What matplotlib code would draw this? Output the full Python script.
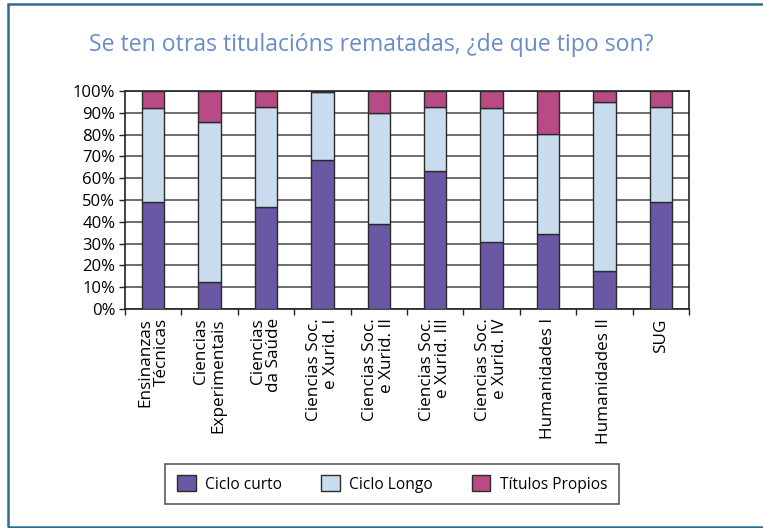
import numpy as np
import matplotlib
matplotlib.use("Agg")
import matplotlib.pyplot as plt
from matplotlib.patches import Patch, Rectangle

# data (percent)
categories = ["Ensinanzas\nTécnicas", "Ciencias\nExperimentais", "Ciencias\nda Saúde",
              "Ciencias Soc.\ne Xurid. I", "Ciencias Soc.\ne Xurid. II", "Ciencias Soc.\ne Xurid. III",
              "Ciencias Soc.\ne Xurid. IV", "Humanidades I", "Humanidades II", "SUG"]
ciclo_curto = [49.1, 12.4, 46.6, 68.2, 39.0, 63.1, 30.6, 34.4, 17.3, 49.1]
ciclo_longo = [43.1, 73.5, 46.2, 31.2, 50.8, 29.7, 61.8, 45.9, 77.5, 43.7]
titulos_propios = [7.8, 14.1, 7.2, 0.6, 10.2, 7.2, 7.6, 19.7, 5.2, 7.2]
series_names = ["Ciclo curto", "Ciclo Longo", "Títulos Propios"]
yticks = [0, 10, 20, 30, 40, 50, 60, 70, 80, 90, 100]

colors = ["#6a58a5", "#c8dcee", "#b84a84"]

plt.rcParams['font.family'] = ['Open Sans', 'DejaVu Sans']

fig = plt.figure(figsize=(7.63, 5.28), dpi=100)
ax = fig.add_axes([0.1638, 0.4148, 0.7392, 0.4129])

x = np.arange(len(categories))
bottom = np.zeros(len(categories))
for vals, c in zip([ciclo_curto, ciclo_longo, titulos_propios], colors):
    ax.bar(x, vals, bottom=bottom, width=0.4, color=c, edgecolor="#2b2b2b",
           linewidth=1.0, zorder=3)
    bottom += np.array(vals)

ax.set_xlim(-0.5, len(categories) - 0.5)
ax.set_ylim(0, 100)
ax.set_yticks(yticks)
ax.set_yticklabels([f"{v}%" for v in yticks], fontsize=12)
ax.yaxis.grid(True, color="#6e6e6e", linewidth=1.4, zorder=0)
ax.set_axisbelow(True)

# category ticks sit between the bars
ax.set_xticks(np.arange(len(categories) + 1) - 0.5)
ax.set_xticklabels([])
ax.tick_params(axis="x", length=4, width=1, color="#222222", direction="out")
ax.tick_params(axis="y", length=4, width=1, color="#222222", direction="out", pad=3)
for i, lab in enumerate(categories):
    ax.text(i, -4.3, lab, rotation=90, ha="center", va="top", multialignment="right",
            fontsize=12.3, linespacing=1.05, transform=ax.transData, clip_on=False)

for s in ax.spines.values():
    s.set_color("#222222")
    s.set_linewidth(1.2)

# title
fig.text(0.117, 0.915, "Se ten otras titulacións rematadas, ¿de que tipo son?",
         fontsize=16.6, color="#6a8cca", ha="left", va="center")

# legend
handles = [Patch(facecolor=c, edgecolor="#2b2b2b", linewidth=1.0) for c in colors]
leg = fig.legend(handles, series_names, ncol=3, loc="center",
                 bbox_to_anchor=(392 / 763, 1 - 484 / 528), fontsize=11.2,
                 frameon=True, fancybox=False, handlelength=1.2, handleheight=1.2,
                 columnspacing=2.5, handletextpad=0.6, borderpad=0.75)
leg.get_frame().set_edgecolor("#333333")
leg.get_frame().set_linewidth(1.2)

# outer frame (open on the right)
fig.add_artist(Rectangle((8 / 763, 1 / 528), 1.0, 1 - 5 / 528, transform=fig.transFigure,
                         fill=False, edgecolor="#2c6d93", linewidth=1.8))

fig.savefig("out.png", dpi=100)
